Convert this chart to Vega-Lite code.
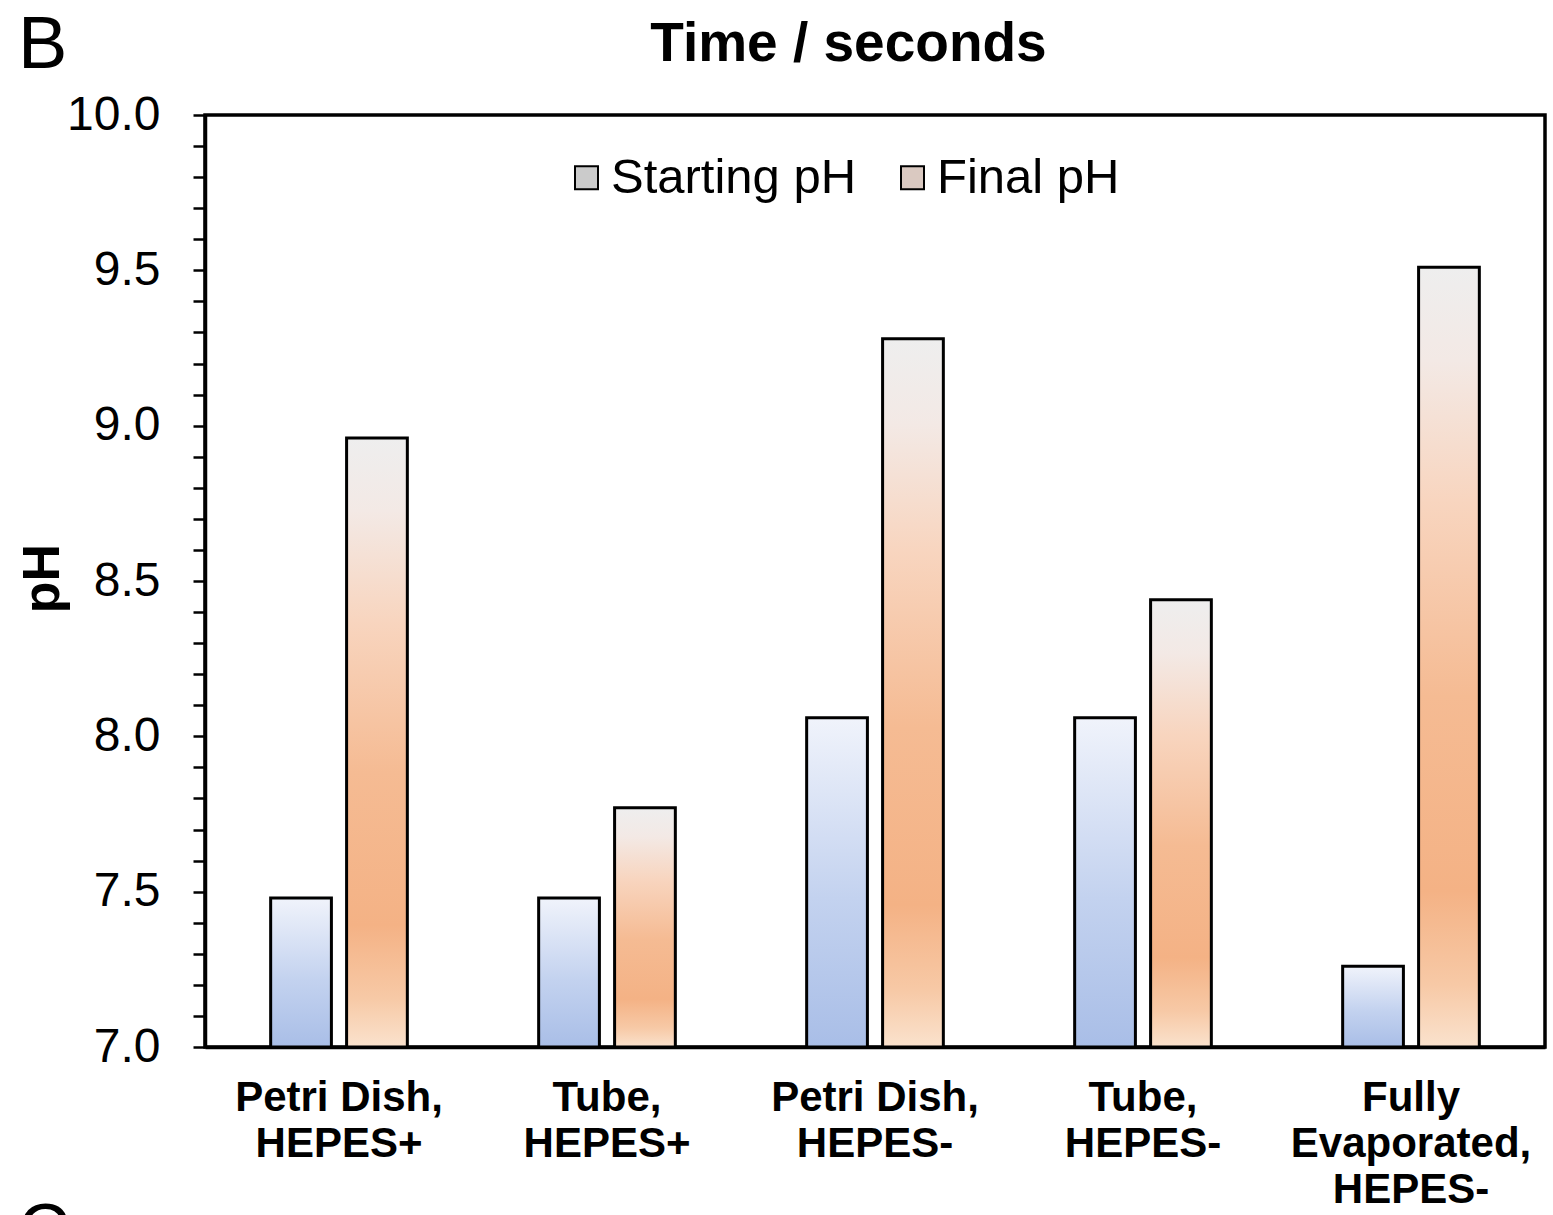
{
  "$schema": "https://vega.github.io/schema/vega-lite/v6.json",
  "autosize": "none",
  "width": 1340,
  "height": 932,
  "padding": {"left": 205, "top": 115, "right": 8, "bottom": 168},
  "background": "white",
  "title": {
    "text": "B",
    "orient": "top",
    "anchor": "start",
    "frame": "group",
    "dx": -187,
    "baseline": "alphabetic",
    "offset": -126,
    "fontSize": 74,
    "fontWeight": "normal",
    "font": "Liberation Sans",
    "color": "black"
  },
  "config": {
    "font": "Liberation Sans",
    "view": {"stroke": "black", "strokeWidth": 3.5},
    "axis": {
      "domainColor": "black",
      "domainWidth": 3.5,
      "tickColor": "black",
      "labelColor": "black",
      "titleColor": "black",
      "grid": false
    }
  },
  "data": {
    "values": [
      {"cond": "Petri Dish,|HEPES+", "series": "Starting pH", "pH": 7.48},
      {"cond": "Petri Dish,|HEPES+", "series": "Final pH", "pH": 8.96},
      {"cond": "Tube,|HEPES+", "series": "Starting pH", "pH": 7.48},
      {"cond": "Tube,|HEPES+", "series": "Final pH", "pH": 7.77},
      {"cond": "Petri Dish,|HEPES-", "series": "Starting pH", "pH": 8.06},
      {"cond": "Petri Dish,|HEPES-", "series": "Final pH", "pH": 9.28},
      {"cond": "Tube,|HEPES-", "series": "Starting pH", "pH": 8.06},
      {"cond": "Tube,|HEPES-", "series": "Final pH", "pH": 8.44},
      {"cond": "Fully|Evaporated,|HEPES-", "series": "Starting pH", "pH": 7.26},
      {"cond": "Fully|Evaporated,|HEPES-", "series": "Final pH", "pH": 9.51}
    ]
  },
  "encoding": {
    "xOffset": {
      "field": "series", "type": "nominal",
      "sort": ["Starting pH", "Final pH"],
      "scale": {"paddingInner": 0.2}
    },
    "y": {
      "field": "pH", "type": "quantitative",
      "scale": {"domain": [7, 10], "nice": false, "zero": false},
      "axis": {
        "orient": "left",
        "values": [7, 7.1, 7.2, 7.3, 7.4, 7.5, 7.6, 7.7, 7.8, 7.9, 8, 8.1, 8.2, 8.3, 8.4, 8.5, 8.6, 8.7, 8.8, 8.9, 9, 9.1, 9.2, 9.3, 9.4, 9.5, 9.6, 9.7, 9.8, 9.9, 10],
        "labelExpr": "abs(datum.value * 2 - round(datum.value * 2)) < 0.01 ? format(datum.value, '.1f') : ''",
        "labelFontSize": 48,
        "labelPadding": 33,
        "tickSize": 12,
        "tickWidth": 2.5,
        "labelFlush": false,
        "labelOverlap": false,
        "title": "pH",
        "titleFontSize": 52,
        "titleFontWeight": "bold",
        "titleAngle": -90,
        "titleAlign": "center",
        "titleBaseline": "alphabetic",
        "titleX": -147,
        "titleY": 463
      }
    },
    "y2": {"datum": 7}
  },
  "resolve": {"axis": {"x": "independent"}},
  "layer": [
    {
      "mark": {"type": "bar", "clip": true},
      "encoding": {
        "x": {
          "field": "cond", "type": "nominal", "sort": null,
          "scale": {"paddingInner": 0.49, "paddingOuter": 0.245},
          "axis": {
            "orient": "top",
            "domain": false, "ticks": false, "labels": false,
            "title": "Time / seconds",
            "titleFontSize": 55,
            "titleFontWeight": "bold",
            "titleBaseline": "alphabetic",
            "titleAlign": "center",
            "titleAngle": 0,
            "titleX": 643,
            "titleY": -55
          }
        },
        "fill": {
          "field": "series", "type": "nominal",
          "sort": ["Starting pH", "Final pH"],
          "scale": {"range": ["#cbcbcb", "#dac9c1"]},
          "legend": {
            "title": null,
            "orient": "none",
            "legendX": 357,
            "legendY": 38,
            "direction": "horizontal",
            "padding": 0,
            "symbolType": "square",
            "symbolSize": 529,
            "symbolStrokeColor": "black",
            "symbolStrokeWidth": 2,
            "symbolOpacity": 1,
            "labelFontSize": 49,
            "labelColor": "black",
            "labelOffset": 0,
            "columnPadding": 31,
            "labelLimit": 400
          }
        }
      }
    },
    {
      "transform": [{"filter": "datum.series === 'Starting pH'"}],
      "mark": {
        "type": "bar",
        "clip": true,
        "stroke": "black",
        "strokeWidth": 3,
        "fill": {
          "gradient": "linear",
          "x1": 0, "y1": 1, "x2": 0, "y2": 0,
          "stops": [
            {"offset": 0, "color": "#a9bee7"},
            {"offset": 0.45, "color": "#c3d2ef"},
            {"offset": 1, "color": "#f0f3fb"}
          ]
        }
      },
      "encoding": {
        "x": {
          "field": "cond", "type": "nominal", "sort": null,
          "axis": {
            "orient": "bottom",
            "ticks": false,
            "labelAngle": 0,
            "labelFontSize": 42,
            "labelFontWeight": "bold",
            "labelPadding": 30,
            "labelLineHeight": 46,
            "labelBaseline": "top",
            "labelLimit": 400,
            "labelExpr": "split(datum.label, '|')",
            "title": "C",
            "titleFontSize": 70,
            "titleFontWeight": "normal",
            "titleAngle": 0,
            "titleAlign": "left",
            "titleBaseline": "alphabetic",
            "titleX": -187,
            "titleY": 205
          }
        }
      }
    },
    {
      "transform": [{"filter": "datum.series === 'Final pH'"}],
      "mark": {
        "type": "bar",
        "clip": true,
        "stroke": "black",
        "strokeWidth": 3,
        "fill": {
          "gradient": "linear",
          "x1": 0, "y1": 1, "x2": 0, "y2": 0,
          "stops": [
            {"offset": 0, "color": "#fae2cd"},
            {"offset": 0.08, "color": "#f7c9a6"},
            {"offset": 0.2, "color": "#f4b285"},
            {"offset": 0.45, "color": "#f5bb93"},
            {"offset": 0.7, "color": "#f8d5bf"},
            {"offset": 0.88, "color": "#f3e9e5"},
            {"offset": 1, "color": "#eeeeee"}
          ]
        }
      },
      "encoding": {
        "x": {"field": "cond", "type": "nominal", "sort": null, "axis": null}
      }
    }
  ]
}
